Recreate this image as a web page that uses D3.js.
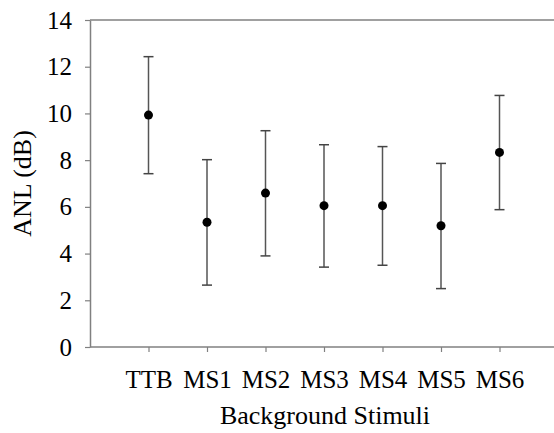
<!DOCTYPE html>
<html lang="en">
<head>
    <meta charset="utf-8">
    <title>ANL by background stimuli</title>
    <script src="https://d3js.org/d3.v7.min.js" charset="utf-8"></script>
    <style>
        body { margin: 0; background: #fff; }
    </style>
</head>
<body>
    <script>
        // Data
        var stimuli = [ "TTB", "MS1", "MS2", "MS3", "MS4", "MS5", "MS6" ];
        var anlMean = [ 9.93, 5.34, 6.59, 6.05, 6.05, 5.19, 8.33 ];
        var anlLow  = [ 7.42, 2.65, 3.90, 3.42, 3.50, 2.50, 5.88 ];
        var anlHigh = [ 12.43, 8.02, 9.26, 8.66, 8.58, 7.86, 10.77 ];
        var yTicks  = [ 0, 2, 4, 6, 8, 10, 12, 14 ];

        var width = 554;
        var height = 433;
        var serif = "'Liberation Serif', 'Times New Roman', serif";
        // plot edges (note: "top" is taken by window.top)
        var plotLeft = 90, plotTop = 20, plotBottom = 347, plotRight = 554;

        var svg = d3.select( "body" )
            .append( "svg" )
            .attr( "width", width )
            .attr( "height", height )
            .style( "font-family", serif );

        // scales
        var x = d3.scalePoint()
            .domain( stimuli )
            .range( [ plotLeft, 558 ] )
            .padding( 1 );

        var y = d3.scaleLinear()
            .domain( [ 0, 14 ] )
            .range( [ plotBottom, plotTop ] );

        // top frame line (no right side in the original)
        svg.append( "line" )
            .attr( "x1", plotLeft ).attr( "x2", plotRight )
            .attr( "y1", plotTop ).attr( "y2", plotTop )
            .attr( "stroke", "#808080" )
            .attr( "stroke-width", 1.5 );

        // y axis
        var yAxis = svg.append( "g" )
            .attr( "transform", "translate(" + plotLeft + ",0)" )
            .call( d3.axisLeft( y ).tickValues( yTicks ).tickSize( 5 ).tickPadding( 13 ).tickSizeOuter( 0 ) )
            .attr( "font-family", serif );
        yAxis.select( ".domain" ).attr( "stroke", "#808080" ).attr( "stroke-width", 1.5 );
        yAxis.selectAll( ".tick line" ).attr( "stroke", "#808080" ).attr( "stroke-width", 1.2 );
        yAxis.selectAll( ".tick text" )
            .style( "font-family", serif )
            .style( "font-size", "25px" )
            .attr( "fill", "#000" );

        // x axis
        var xAxis = svg.append( "g" )
            .attr( "transform", "translate(0," + plotBottom + ")" )
            .call( d3.axisBottom( x ).tickSize( 5 ).tickPadding( 18 ).tickSizeOuter( 0 ) )
            .attr( "font-family", serif );
        xAxis.select( ".domain" ).remove();
        xAxis.append( "line" )
            .attr( "x1", plotLeft ).attr( "x2", plotRight )
            .attr( "stroke", "#808080" )
            .attr( "stroke-width", 1.5 );
        xAxis.selectAll( ".tick line" ).attr( "stroke", "#808080" ).attr( "stroke-width", 1.2 );
        xAxis.selectAll( ".tick text" )
            .style( "font-family", serif )
            .style( "font-size", "25px" )
            .attr( "fill", "#000" );

        // error bars
        var g = svg.append( "g" );
        var idx = d3.range( stimuli.length );

        g.selectAll( "line.bar" )
            .data( idx )
            .enter()
            .append( "line" )
            .attr( "class", "bar" )
            .attr( "x1", function( i ) { return x( stimuli[ i ] ); } )
            .attr( "x2", function( i ) { return x( stimuli[ i ] ); } )
            .attr( "y1", function( i ) { return y( anlLow[ i ] ); } )
            .attr( "y2", function( i ) { return y( anlHigh[ i ] ); } )
            .attr( "stroke", "#555" )
            .attr( "stroke-width", 1.5 );

        [ anlLow, anlHigh ].forEach( function( arr ) {
            g.selectAll( null )
                .data( idx )
                .enter()
                .append( "line" )
                .attr( "x1", function( i ) { return x( stimuli[ i ] ) - 5; } )
                .attr( "x2", function( i ) { return x( stimuli[ i ] ) + 5; } )
                .attr( "y1", function( i ) { return y( arr[ i ] ); } )
                .attr( "y2", function( i ) { return y( arr[ i ] ); } )
                .attr( "stroke", "#444" )
                .attr( "stroke-width", 1.5 );
        } );

        // means
        g.selectAll( "circle" )
            .data( idx )
            .enter()
            .append( "circle" )
            .attr( "cx", function( i ) { return x( stimuli[ i ] ); } )
            .attr( "cy", function( i ) { return y( anlMean[ i ] ); } )
            .attr( "r", 4.5 )
            .attr( "fill", "#000" );

        // axis titles
        svg.append( "text" )
            .attr( "x", 325 )
            .attr( "y", 424 )
            .attr( "text-anchor", "middle" )
            .style( "font-size", "26px" )
            .text( "Background Stimuli" );

        svg.append( "text" )
            .attr( "transform", "translate(31," + ( ( plotTop + plotBottom ) / 2 ) + ") rotate(-90)" )
            .attr( "text-anchor", "middle" )
            .style( "font-size", "26px" )
            .text( "ANL (dB)" );
    </script>
</body>
</html>
